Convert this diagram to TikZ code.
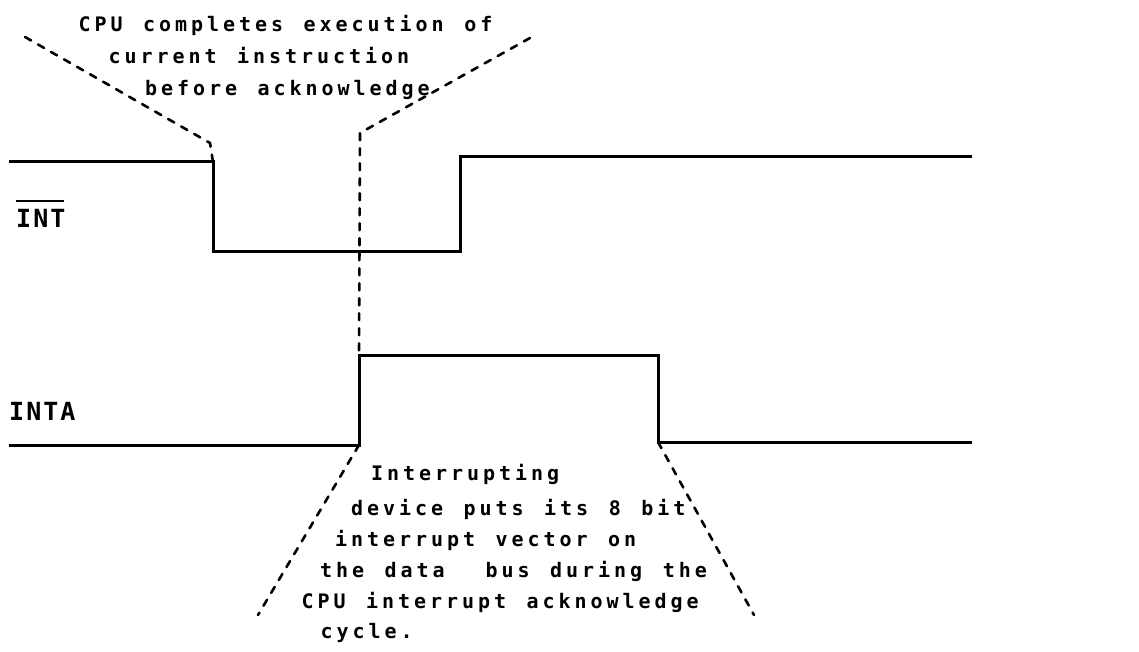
\documentclass[tikz,border=0pt]{standalone}
\usepackage{fontspec}
\newfontfamily\notefont[LetterSpace=19.8,WordSpace=1.28]{DejaVu Sans Mono}
\newfontfamily\sigfont[LetterSpace=8]{DejaVu Sans Mono}

\begin{document}
\begin{tikzpicture}[x=1pt,y=-1pt,
  wave/.style={line width=3pt, line join=miter},
  leader/.style={line width=2.6pt, dash pattern=on 7pt off 8pt, line cap=round},
  note/.style={anchor=base west, inner sep=0pt, font={\fontsize{20}{24}\notefont\bfseries}},
  siglabel/.style={anchor=base west, inner sep=0pt, font={\fontsize{25}{30}\sigfont\bfseries}}]

\useasboundingbox[fill=white] (0,0) rectangle (1139,652);

% corner points of the two waveforms
\coordinate (intA) at (9,162);
\coordinate (intB) at (213,162);
\coordinate (intC) at (213,251);
\coordinate (intD) at (460,251);
\coordinate (intE) at (460,157);
\coordinate (intF) at (972,157);

\coordinate (ackA) at (9,445);
\coordinate (ackB) at (359,445);
\coordinate (ackC) at (359,355);
\coordinate (ackD) at (658,355);
\coordinate (ackE) at (658,442);
\coordinate (ackF) at (972,442);

% free ends of the leader lines
\coordinate (tl) at (25,37);
\coordinate (tlk) at (210,143);
\coordinate (tr) at (530,38);
\coordinate (trk) at (360,133);
\coordinate (bl) at (258,615);
\coordinate (br) at (754,615);

% waveforms
\draw[wave] (intA) -- (intB) -- (intC) -- (intD) -- (intE) -- (intF);
\draw[wave] (ackA) -- (ackB) -- (ackC) -- (ackD) -- (ackE) -- (ackF);

% signal names
\node[siglabel] (int) at (16,227) {INT};
\draw[line width=2.4pt] ([yshift=7.5pt]int.north west) -- ([yshift=7.5pt,xshift=-2pt]int.north east);
\node[siglabel] (inta) at (9,420) {INTA};

% leader lines
\draw[leader] (tl) -- (tlk) -- (intB);
\draw[leader] (tr) -- (trk) -- (ackC);
\draw[leader] (ackB) -- (bl);
\draw[leader] (ackE) -- (br);

% annotations
\node[note] (t1) at (78.5,32) {CPU completes execution of};
\node[note] (t2) at (108.5,64) {current instruction};
\node[note] (t3) at (145,96) {before acknowledge};

\node[note] (b1) at (371,480) {Interrupting};
\node[note] (b2) at (351,515) {device puts its 8 bit};
\node[note] (b3) at (335,546) {interrupt vector on};
\node[note] (b4) at (320,577) {the data\ \ bus during the};
\node[note] (b5) at (301.5,608) {CPU interrupt acknowledge};
\node[note] (b6) at (320.5,638) {cycle.};
\end{tikzpicture}
\end{document}
